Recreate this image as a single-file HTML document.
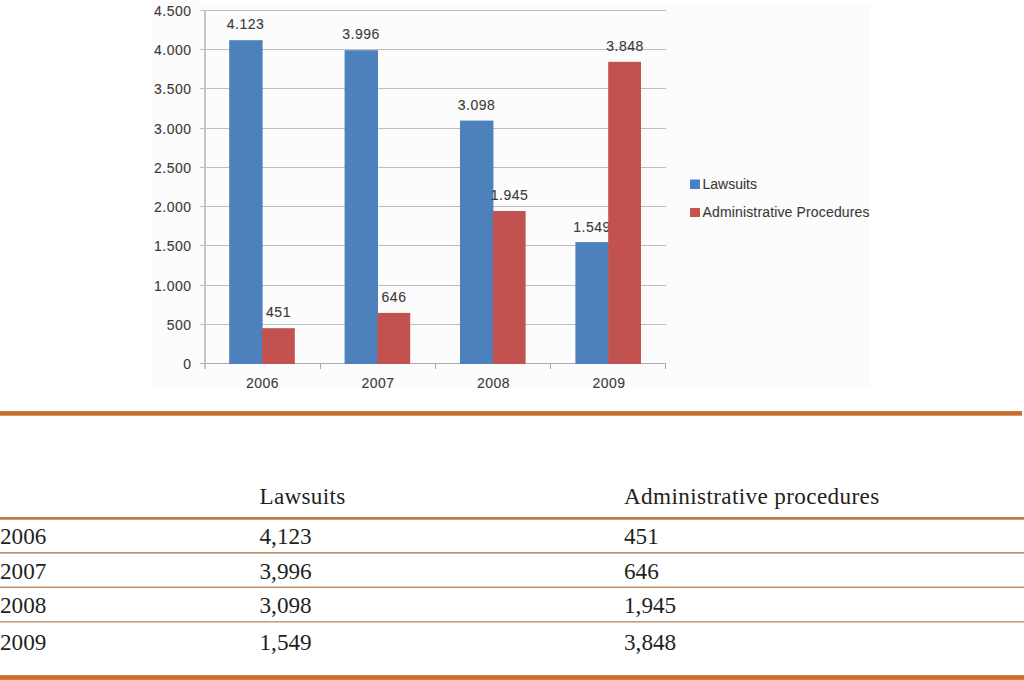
<!DOCTYPE html>
<html>
<head>
<meta charset="utf-8">
<style>
html,body{margin:0;padding:0;background:#fff;width:1024px;height:680px;overflow:hidden;position:relative}
.s{font-family:"Liberation Sans",sans-serif}
.r{font-family:"Liberation Serif",serif}
.hl{position:absolute;left:0;width:1024px}
.t{position:absolute;font-family:"Liberation Serif",serif;font-size:23.2px;letter-spacing:0;color:#231f20;white-space:nowrap;line-height:1}
</style>
</head>
<body>
<svg width="1024" height="400" style="position:absolute;left:0;top:0">
  <rect x="152" y="5" width="718" height="382" fill="#fcfcfc"/>
  <rect x="152" y="0" width="50" height="5" fill="#fcfcfc"/>
  <!-- gridlines -->
  <g stroke="#bdbdbd" stroke-width="1" shape-rendering="crispEdges">
    <line x1="200" y1="10.5" x2="666" y2="10.5"/>
    <line x1="200" y1="49.5" x2="666" y2="49.5"/>
    <line x1="200" y1="88.5" x2="666" y2="88.5"/>
    <line x1="200" y1="128.5" x2="666" y2="128.5"/>
    <line x1="200" y1="167.5" x2="666" y2="167.5"/>
    <line x1="200" y1="206.5" x2="666" y2="206.5"/>
    <line x1="200" y1="245.5" x2="666" y2="245.5"/>
    <line x1="200" y1="285.5" x2="666" y2="285.5"/>
    <line x1="200" y1="324.5" x2="666" y2="324.5"/>
    <line x1="200" y1="363.5" x2="666" y2="363.5" stroke="#aaaaaa"/>
  </g>
  <!-- blue bars -->
  <g fill="#4d81bc">
    <rect x="229.2" y="40.2" width="33.4" height="323.8"/>
    <rect x="344.6" y="50.2" width="33.4" height="313.8"/>
    <rect x="460.0" y="120.6" width="33.4" height="243.4"/>
    <rect x="575.4" y="242.1" width="33.4" height="121.9"/>
  </g>
  <!-- blue labels -->
  <g class="s" font-size="14" fill="#3a3a3a" stroke="#3a3a3a" stroke-width="0.1" text-anchor="middle" letter-spacing="0.5">
    <text x="245.5" y="29">4.123</text>
    <text x="361" y="39">3.996</text>
    <text x="476.5" y="109.5">3.098</text>
    <text x="592" y="231.5">1.549</text>
  </g>
  <!-- red bars -->
  <g fill="#c25250">
    <rect x="262.0" y="328.2" width="32.8" height="35.8"/>
    <rect x="377.4" y="312.9" width="32.8" height="51.1"/>
    <rect x="492.8" y="211.0" width="32.8" height="153.0"/>
    <rect x="608.2" y="61.8" width="32.8" height="302.2"/>
  </g>
  <!-- red labels -->
  <g class="s" font-size="14" fill="#3a3a3a" stroke="#3a3a3a" stroke-width="0.1" text-anchor="middle" letter-spacing="0.5">
    <text x="278.5" y="317">451</text>
    <text x="394" y="302">646</text>
    <text x="509.5" y="200">1.945</text>
    <text x="625" y="50.5">3.848</text>
  </g>
  <!-- axes -->
  <g stroke="#a8a8a8" stroke-width="1" shape-rendering="crispEdges">
    <line x1="205" y1="10" x2="205" y2="369" stroke="#c4c4c4" stroke-width="2"/>
    <line x1="320.5" y1="363" x2="320.5" y2="369"/>
    <line x1="435.5" y1="363" x2="435.5" y2="369"/>
    <line x1="550.5" y1="363" x2="550.5" y2="369"/>
    <line x1="665.5" y1="363" x2="665.5" y2="369"/>
  </g>
  <!-- y labels -->
  <g class="s" font-size="14" fill="#3a3a3a" stroke="#3a3a3a" stroke-width="0.1" text-anchor="end" letter-spacing="0.5">
    <text x="191.5" y="15.5">4.500</text>
    <text x="191.5" y="54.5">4.000</text>
    <text x="191.5" y="94">3.500</text>
    <text x="191.5" y="133.5">3.000</text>
    <text x="191.5" y="172.5">2.500</text>
    <text x="191.5" y="211.5">2.000</text>
    <text x="191.5" y="251">1.500</text>
    <text x="191.5" y="290.5">1.000</text>
    <text x="191.5" y="329.5">500</text>
    <text x="191.5" y="368.5">0</text>
  </g>
  <!-- x labels -->
  <g class="s" font-size="14" fill="#3a3a3a" stroke="#3a3a3a" stroke-width="0.1" text-anchor="middle" letter-spacing="0.5">
    <text x="262.5" y="387.8">2006</text>
    <text x="378" y="387.8">2007</text>
    <text x="493.5" y="387.8">2008</text>
    <text x="609" y="387.8">2009</text>
  </g>
  <!-- legend -->
  <rect x="690" y="179.5" width="10" height="9.5" fill="#4682cc"/>
  <rect x="690" y="208" width="10" height="9" fill="#c95351"/>
  <g class="s" font-size="14" fill="#3a3a3a" stroke="#3a3a3a" stroke-width="0.1">
    <text x="702.5" y="188.5">Lawsuits</text>
    <text x="702.5" y="217" letter-spacing="0.15">Administrative Procedures</text>
  </g>
</svg>

<div class="hl" style="top:411px;height:5px;width:1022px;background:linear-gradient(#c37d4b 0,#c37d4b 1px,#c86e2d 1px,#c86e2d 4px,#e0966a 4px)"></div>
<div class="hl" style="top:517px;height:3px;background:linear-gradient(#bd8258 0,#bd8258 1px,#c2723c 1px,#c2723c 2px,#e1976e 2px)"></div>
<div class="hl" style="top:552px;height:2px;background:linear-gradient(#c0926a 0,#c0926a 1px,#dab08c 1px)"></div>
<div class="hl" style="top:586px;height:2px;background:linear-gradient(#eec8aa 0,#eec8aa 1px,#b88a66 1px)"></div>
<div class="hl" style="top:621px;height:2px;background:linear-gradient(#c2a08a 0,#c2a08a 1px,#dcc3af 1px)"></div>
<div class="hl" style="top:675px;height:5px;background:linear-gradient(#c88250 0,#c88250 1px,#c57030 1px,#c57030 2px,#d0702a 2px,#d0702a 4px,#da7a37 4px)"></div>

<div class="t" style="left:259.5px;top:485px;letter-spacing:0.28px">Lawsuits</div>
<div class="t" style="left:624px;top:485px;letter-spacing:0.36px">Administrative procedures</div>

<div class="t" style="left:0;top:525px">2006</div>
<div class="t" style="left:259.5px;top:525px">4,123</div>
<div class="t" style="left:624px;top:525px">451</div>

<div class="t" style="left:0;top:559.5px">2007</div>
<div class="t" style="left:259.5px;top:559.5px">3,996</div>
<div class="t" style="left:624px;top:559.5px">646</div>

<div class="t" style="left:0;top:594px">2008</div>
<div class="t" style="left:259.5px;top:594px">3,098</div>
<div class="t" style="left:624px;top:594px">1,945</div>

<div class="t" style="left:0;top:631px">2009</div>
<div class="t" style="left:259.5px;top:631px">1,549</div>
<div class="t" style="left:624px;top:631px">3,848</div>
</body>
</html>
